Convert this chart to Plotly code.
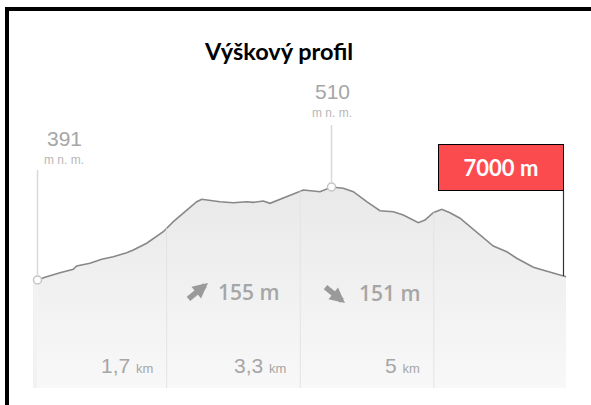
import numpy as np
import plotly.graph_objects as go

# ---- data ----
dist_km = [0.0, 0.099, 0.298, 0.474, 0.519, 0.695, 0.850, 1.004, 1.181, 1.269, 1.446,
           1.666, 1.799, 1.976, 2.109, 2.175, 2.285, 2.417, 2.593, 2.771, 2.858, 2.991,
           3.079, 3.212, 3.388, 3.521, 3.653, 3.742, 3.894, 4.050, 4.183, 4.360, 4.536,
           4.713, 4.845, 5.044, 5.132, 5.242, 5.354, 5.464, 5.596, 5.817, 6.037, 6.215,
           6.347, 6.567, 6.699, 6.832, 7.0]
elev_m = [391, 394.5, 400.3, 404.7, 408.9, 412.4, 417.5, 420.8, 425.9, 429.4, 438.0,
          452.8, 465.6, 480.6, 491.2, 494.3, 492.5, 491.2, 489.9, 491.2, 490.4, 492.1,
          489.1, 494.3, 501.0, 506.2, 504.9, 504.0, 510, 508.3, 504.0, 491.2, 479.7,
          478.4, 474.2, 464.3, 467.8, 477.1, 481.5, 477.1, 470.0, 452.8, 434.5, 427.2,
          418.8, 407.3, 403.8, 400.3, 395.2]
grid_km = [1.71, 3.48, 5.25]
grid_labels = ["1,7", "3,3", "5"]
start_label = "391"
peak_label = "510"
ascent_text = "155 m"
descent_text = "151 m"
total_text = "7000 m"
title_text = "Výškový profil"

W, H = 591, 405
ML, MR, MT, MB = 33, 24, 20, 17
PW, PH = W - ML - MR, H - MT - MB
y0, y1 = 252.8, 723.7
x0, x1 = -0.0596, 7.0132


def px(x):
    return (x - ML) / PW


def py(y):
    return (H - MB - y) / PH


GRAY_TXT = "#a6a6a6"
fig = go.Figure()

fig.add_trace(go.Scatter(
    x=dist_km, y=elev_m, mode="lines",
    line=dict(color="#888888", width=1.6),
    fill="tozeroy",
    fillgradient=dict(type="vertical", start=y0, stop=max(elev_m),
                      colorscale=[[0, "#f8f8f8"], [1, "#e9e9e9"]]),
    hoverinfo="skip", showlegend=False))

i_peak = int(np.argmax(elev_m))
fig.add_trace(go.Scatter(
    x=[dist_km[0], dist_km[i_peak]], y=[elev_m[0], elev_m[i_peak]], mode="markers",
    marker=dict(size=8, color="white", line=dict(color="#c4c4c4", width=1.5)),
    hoverinfo="skip", showlegend=False, cliponaxis=False))

shapes = []
shapes.append(dict(type="rect", xref="x", yref="y", x0=x0, x1=dist_km[0], y0=y0, y1=elev_m[0],
                   fillcolor="#f2f2f2", line=dict(width=0), layer="below"))
for g in grid_km:
    shapes.append(dict(type="line", xref="x", yref="y", x0=g, x1=g, y0=y0,
                       y1=float(np.interp(g, dist_km, elev_m)),
                       line=dict(color="#e3e3e3", width=1)))
shapes.append(dict(type="line", xref="x", yref="paper", x0=dist_km[0], x1=dist_km[0],
                   y0=py(170), y1=py(276), line=dict(color="#d9d9d9", width=1.5)))
shapes.append(dict(type="line", xref="x", yref="paper", x0=dist_km[i_peak], x1=dist_km[i_peak],
                   y0=py(125), y1=py(183), line=dict(color="#d9d9d9", width=1.5)))
shapes.append(dict(type="line", xref="paper", yref="paper", x0=px(563.5), x1=px(563.5),
                   y0=py(191), y1=py(276), line=dict(color="#333333", width=1.2)))
shapes.append(dict(type="line", xref="paper", yref="paper", x0=px(5), x1=px(595),
                   y0=py(9), y1=py(9), line=dict(color="black", width=4)))
shapes.append(dict(type="line", xref="paper", yref="paper", x0=px(7), x1=px(7),
                   y0=py(7), y1=py(410), line=dict(color="black", width=4)))

ann = []


def txt(text, x, y, size, color, family, xanchor="center", weight=None, **kw):
    f = dict(family=family, size=size, color=color)
    if weight:
        f["weight"] = weight
    d = dict(text=text, xref="paper", yref="paper", x=px(x), y=py(y), showarrow=False,
             xanchor=xanchor, yanchor="middle", font=f)
    d.update(kw)
    ann.append(d)


txt("<b>" + title_text + "</b>", 278, 51, 23.5, "black", "Lato, Open Sans, sans-serif")
for xx, lab, ty, uy in [(64, start_label, 138, 160), (332, peak_label, 91, 113)]:
    txt(lab, xx, ty, 21, GRAY_TXT, "Liberation Sans, Arial")
    txt("m n. m.", xx, uy, 12, "#b8b8b8", "Liberation Sans, Arial")

# arrows
for hx, hy, ax, ay in [(208, 283, -21, 17), (345, 303, -21, -17)]:
    ann.append(dict(xref="paper", yref="paper", x=px(hx), y=py(hy), ax=ax, ay=ay,
                    text="", showarrow=True, arrowhead=2, arrowsize=0.55, arrowwidth=5.5,
                    arrowcolor="#9a9a9a", standoff=0))
txt(ascent_text, 216, 292, 21, GRAY_TXT, "Open Sans, sans-serif", xanchor="left", weight=600)
txt(descent_text, 357, 293, 21, GRAY_TXT, "Open Sans, sans-serif", xanchor="left", weight=600)

for g, lab in zip(grid_km, grid_labels):
    ann.append(dict(text=lab + " <span style='font-size:13px'>km</span>", x=g, xref="x",
                    yref="paper", y=py(365), xanchor="right", yanchor="middle", xshift=-12,
                    showarrow=False,
                    font=dict(family="Liberation Sans, Arial", size=21, color=GRAY_TXT)))

ann.append(dict(text="<b>" + total_text + "</b>", xref="paper", yref="paper",
                x=px(501), y=py(167.5), xanchor="center", yanchor="middle", showarrow=False,
                width=124, height=45,
                bgcolor="#fc4b4f", bordercolor="black", borderwidth=1, borderpad=0,
                font=dict(family="Lato, Open Sans, sans-serif", size=22, color="white")))

fig.update_layout(
    width=W, height=H, margin=dict(l=ML, r=MR, t=MT, b=MB),
    paper_bgcolor="white", plot_bgcolor="white",
    xaxis=dict(range=[x0, x1], showgrid=False, zeroline=False, showticklabels=False,
               fixedrange=True),
    yaxis=dict(range=[y0, y1], showgrid=False, zeroline=False, showticklabels=False,
               fixedrange=True),
    shapes=shapes, annotations=ann, showlegend=False)

fig.write_html("out.html", config={"displayModeBar": False},
               post_script="document.body.style.margin='0';")
